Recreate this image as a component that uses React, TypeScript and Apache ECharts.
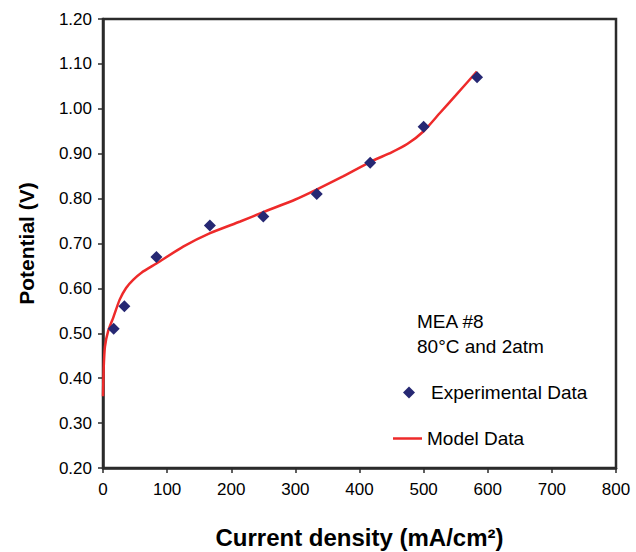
import React, { useEffect, useRef } from "react";
import * as echarts from "echarts";

const expCurrent = [16.7, 33.3, 83.3, 166.7, 250, 333.3, 416.7, 500, 583.3];
const expPotential = [0.51, 0.56, 0.67, 0.74, 0.76, 0.81, 0.88, 0.96, 1.07];

const modelCurrent = [0, 1, 3, 8, 16, 26, 36, 47, 60, 84, 125, 167, 214, 250, 300, 333, 375, 417, 450, 475, 500, 525, 550, 583];
const modelPotential = [0.36, 0.42, 0.47, 0.505, 0.535, 0.575, 0.601, 0.619, 0.635, 0.656, 0.693, 0.723, 0.749, 0.77, 0.798, 0.82, 0.85, 0.882, 0.903, 0.922, 0.95, 0.99, 1.03, 1.083];

const noteLines = ["MEA #8", "80°C and 2atm"];
const FONT = "'Liberation Sans', Arial, sans-serif";

export default function App() {
  const ref = useRef<HTMLDivElement>(null);
  useEffect(() => {
    if (!ref.current) return;
    document.body.style.margin = "0";
    const chart = echarts.init(ref.current, undefined, { renderer: "svg" });
    chart.setOption({
      animation: false,
      backgroundColor: "#ffffff",
      textStyle: { fontFamily: FONT },
      grid: {
        left: 103,
        right: 20,
        top: 19,
        bottom: 84,
        containLabel: false,
        outerBoundsMode: "none",
        show: true,
        borderColor: "#2b2b2b",
        borderWidth: 2.5,
        backgroundColor: "transparent",
      },
      xAxis: {
        type: "value",
        min: 0,
        max: 800,
        interval: 100,
        name: "Current density (mA/cm²)",
        nameLocation: "middle",
        nameGap: 57,
        nameTextStyle: { fontSize: 24, fontWeight: "bold", color: "#000", fontFamily: FONT },
        axisLine: { show: true, lineStyle: { color: "#2b2b2b", width: 2.5 } },
        axisTick: { show: true, inside: false, length: 5, lineStyle: { color: "#2b2b2b", width: 1.5 } },
        axisLabel: { fontSize: 17, color: "#000", margin: 13, fontFamily: FONT, showMaxLabel: true, hideOverlap: false },
        splitLine: { show: false },
      },
      yAxis: {
        type: "value",
        min: 0.2,
        max: 1.2,
        interval: 0.1,
        name: "Potential (V)",
        nameLocation: "middle",
        nameGap: 66,
        nameRotate: 90,
        nameTextStyle: { fontSize: 21, fontWeight: "bold", color: "#000", fontFamily: FONT },
        axisLine: { show: true, lineStyle: { color: "#2b2b2b", width: 2.5 } },
        axisTick: { show: true, inside: false, length: 5, lineStyle: { color: "#2b2b2b", width: 1.5 } },
        axisLabel: {
          fontSize: 17,
          color: "#000",
          margin: 11,
          fontFamily: FONT,
          formatter: (v: number) => v.toFixed(2),
        },
        splitLine: { show: false },
      },
      legend: [
        {
          data: [{ name: "Experimental Data", icon: "diamond" }],
          left: 403,
          top: 383,
          padding: 0,
          itemWidth: 12,
          itemHeight: 12,
          textStyle: { fontSize: 19, color: "#000", fontFamily: FONT, padding: [0, 0, 0, 11] },
          selectedMode: false,
        },
        {
          data: [{ name: "Model Data", icon: "rect" }],
          left: 393,
          top: 429,
          padding: 0,
          itemWidth: 29,
          itemHeight: 2.5,
          textStyle: { fontSize: 19, color: "#000", fontFamily: FONT },
          selectedMode: false,
        },
      ],
      graphic: [
        {
          type: "text",
          left: 417,
          top: 309,
          style: {
            text: noteLines.join("\n"),
            fontSize: 19,
            lineHeight: 25,
            fill: "#000",
            fontFamily: FONT,
          },
        },
      ],
      series: [
        {
          name: "Model Data",
          type: "line",
          data: modelCurrent.map((x, i) => [x, modelPotential[i]]),
          showSymbol: false,
          symbol: "none",
          smooth: 0.2,
          lineStyle: { color: "#ee2a2a", width: 2.5 },
          itemStyle: { color: "#ee2a2a" },
          z: 2,
        },
        {
          name: "Experimental Data",
          type: "scatter",
          data: expCurrent.map((x, i) => [x, expPotential[i]]),
          symbol: "diamond",
          symbolSize: 12,
          itemStyle: { color: "#262873", opacity: 1 },
          z: 3,
        },
      ],
    });
    return () => chart.dispose();
  }, []);
  return <div ref={ref} style={{ width: 636, height: 552 }} />;
}
